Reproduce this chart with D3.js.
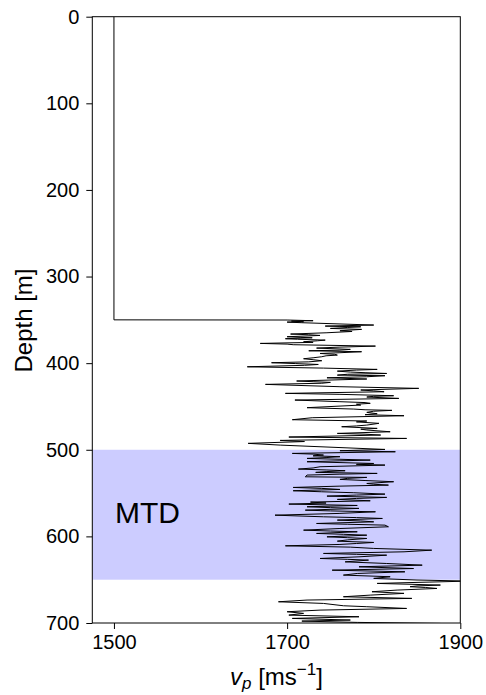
<!DOCTYPE html>
<html>
<head>
<meta charset="utf-8">
<script src="https://cdn.jsdelivr.net/npm/d3@7"></script>
<style>
  body { margin: 0; background: #fff; }
  svg { display: block; font-family: "Liberation Sans", Arial, Helvetica, sans-serif; }
</style>
</head>
<body>
<svg id="chart" width="486" height="695"></svg>
<script>
// P-wave velocity log: depth (m) and vp (m/s)
const depth = [
  0, 350, 350.2, 351.0, 351.4, 352.2, 352.6, 353.3, 356, 357.2, 357.6, 358, 358.8, 359.9, 361, 362.6,
  363.4, 364.9, 366.4, 367.2, 368, 369.5, 370.2, 370.7, 371.8, 372.4, 373.4, 374.2, 375.3, 376.0,
  377.2, 378.0, 378.7, 380.3, 381.5, 382.6, 384.1, 385.0, 385.7, 386.8, 388.0, 388.8, 389.8, 390.7,
  391.5, 392.6, 393.8, 394.9, 396.0, 397.2, 398.5, 399.5, 400.5, 401.5, 402.5, 404.2, 405.7, 407.2,
  408.0, 409.2, 410.3, 411.0, 411.9, 412.8, 413.8, 414.5, 415.7, 416.9, 418.3, 420.6, 421.4, 422.2,
  423.2, 424.5, 427.2, 429.1, 431, 432.0, 433, 434.9, 436, 437.6, 438.3, 439.1, 440.7, 442.6, 444.5,
  445.5, 446.4, 447.4, 448.4, 451.4, 453, 453.8, 454.5, 455.5, 456.8, 458.4, 459.5, 460.7, 463,
  465.3, 466.8, 467.8, 469.5, 471.5, 472.5, 473.4, 475.3, 476.2, 477.2, 479.2, 481.1, 482.0, 483,
  485.3, 486.9, 489.2, 490.5, 492.6, 494.6, 499.6, 501.1, 502.3, 504.2, 505.0, 506.1, 507.0, 508,
  509, 510, 511.9, 512.8, 513.8, 515.8, 516.8, 517.7, 519.6, 521.0, 522.3, 523.3, 524.2, 525.2,
  526.1, 527.3, 528.2, 529.2, 531.2, 531.9, 533.0, 534.2, 535.5, 536.9, 538.9, 539.8, 540.8, 542.0,
  543.5, 544.6, 545.8, 547.3, 548.5, 549.6, 551.2, 552.3, 553.5, 555, 556.2, 557.3, 558.9, 560.4,
  561.5, 562.7, 564.3, 565.8, 566.8, 567.7, 569.7, 570.6, 571.6, 573.5, 575.5, 577.4, 578.3, 579.3,
  581.2, 582.2, 583.2, 585.1, 586.0, 587, 588.9, 590.9, 592.8, 593.8, 594.7, 596.6, 597.6, 598.6,
  600.5, 601.5, 602.4, 604.0, 605.5, 607, 608.2, 609.3, 610.9, 612.4, 613.9, 615.9, 617.8, 619.7,
  620.7, 621.7, 623.6, 625.5, 626.5, 627.4, 629.4, 631.3, 633.2, 635.1, 637.1, 639, 640.9, 642.8,
  644.7, 646.6, 648.5, 650.4, 651.6, 654.3, 656.2, 657.2, 658.1, 659.0, 660.1, 662, 663.9, 665.8,
  667.8, 669.7, 671.6, 673.5, 675.5, 677.4, 680.1, 681.2, 683.2, 685.1, 687, 688.9, 690.9, 692.8,
  694.7, 696.6, 697.8, 699.3, 700.5
];
const vp = [
  1500, 1500, 1700, 1730, 1705, 1719, 1700, 1717, 1800, 1744, 1760, 1785, 1770, 1750, 1786, 1761,
  1775, 1746, 1704, 1725, 1738, 1700, 1715, 1729, 1698, 1712, 1744, 1735, 1719, 1730,
  1669, 1700, 1707, 1802, 1760, 1734, 1773, 1760, 1725, 1786, 1760, 1738, 1755, 1758,
  1745, 1740, 1730, 1719, 1730, 1740, 1725, 1682, 1710, 1736, 1720, 1654, 1742, 1804,
  1780, 1758, 1773, 1790, 1815, 1770, 1758, 1813, 1792, 1746, 1792, 1711, 1730, 1750,
  1740, 1675, 1761, 1852, 1785, 1800, 1812, 1698, 1761, 1823, 1800, 1792, 1829, 1709, 1761,
  1790, 1796, 1780, 1785, 1723, 1777, 1790, 1821, 1800, 1792, 1804, 1790, 1835, 1729,
  1706, 1792, 1780, 1806, 1792, 1780, 1763, 1804, 1785, 1792, 1819, 1758, 1790, 1808,
  1702, 1838, 1692, 1720, 1655, 1692, 1813, 1761, 1825, 1706, 1730, 1742, 1730, 1761,
  1745, 1723, 1796, 1760, 1723, 1800, 1780, 1813, 1738, 1730, 1713, 1745, 1767, 1745,
  1733, 1804, 1760, 1723, 1721, 1792, 1770, 1761, 1790, 1823, 1792, 1800, 1817, 1760,
  1707, 1740, 1761, 1707, 1740, 1777, 1813, 1780, 1746, 1815, 1780, 1758, 1796, 1727,
  1745, 1702, 1781, 1723, 1750, 1783, 1721, 1750, 1802, 1760, 1686, 1742, 1780, 1810,
  1758, 1785, 1800, 1734, 1770, 1813, 1817, 1761, 1719, 1750, 1781, 1734, 1765, 1792,
  1746, 1770, 1792, 1770, 1758, 1800, 1780, 1761, 1698, 1773, 1800, 1867, 1835, 1742,
  1780, 1815, 1783, 1738, 1770, 1794, 1767, 1815, 1856, 1783, 1846, 1752, 1836, 1781,
  1765, 1819, 1800, 1850, 1910, 1804, 1877, 1850, 1842, 1860, 1873, 1827, 1798, 1835,
  1796, 1765, 1844, 1723, 1690, 1742, 1765, 1792, 1838, 1738, 1700, 1719, 1702, 1783,
  1706, 1773, 1717, 1781, 1877
];

// Mass-transport deposit interval (m)
const mtdTop = [500];
const mtdBase = [650];
const mtdLabel = ["MTD"];

const xTicks = [1500, 1700, 1900];
const yTicks = [0, 100, 200, 300, 400, 500, 600, 700];

const svg = d3.select("#chart");
const plot = { left: 92.3, right: 460.3, top: 16.7, bottom: 623 };

const x = d3.scaleLinear().domain([1475, 1900]).range([plot.left, plot.right]);
const y = d3.scaleLinear().domain([0, 700]).range([plot.top, plot.bottom]);

svg.append("defs").append("clipPath").attr("id", "plotclip")
  .append("rect")
  .attr("x", plot.left).attr("y", plot.top)
  .attr("width", plot.right - plot.left).attr("height", plot.bottom - plot.top);

const g = svg.append("g").attr("clip-path", "url(#plotclip)");

// MTD band
g.selectAll("rect.mtd")
  .data(mtdTop.map((t, i) => ({ top: t, base: mtdBase[i], label: mtdLabel[i] })))
  .join("rect")
  .attr("class", "mtd")
  .attr("x", plot.left)
  .attr("width", plot.right - plot.left)
  .attr("y", d => y(d.top))
  .attr("height", d => y(d.base) - y(d.top))
  .attr("fill", "#ccccff");

// velocity log
const pts = depth.map((d, i) => [vp[i], d]);
const line = d3.line().x(d => x(d[0])).y(d => y(d[1]));
g.append("path")
  .attr("d", line(pts))
  .attr("fill", "none")
  .attr("stroke", "#000")
  .attr("stroke-width", 1)
  .attr("stroke-linejoin", "miter");

// MTD label
svg.append("text")
  .attr("x", 115)
  .attr("y", 523)
  .attr("font-size", 30)
  .attr("fill", "#000")
  .text(mtdLabel[0]);

// axes
const fmt = d3.format("d");
const yAxis = d3.axisLeft(y).tickValues(yTicks).tickFormat(fmt).tickSize(6).tickPadding(7);
const xAxis = d3.axisBottom(x).tickValues(xTicks).tickFormat(fmt).tickSize(6).tickPadding(6);

const ya = svg.append("g").attr("transform", `translate(${plot.left},0)`).call(yAxis);
const xa = svg.append("g").attr("transform", `translate(0,${plot.bottom})`).call(xAxis);
[ya, xa].forEach(a => {
  a.select(".domain").remove();
  a.selectAll(".tick line").attr("stroke", "#000").attr("stroke-width", 1);
  a.selectAll(".tick text")
    .attr("font-family", '"Liberation Sans", Arial, sans-serif')
    .attr("font-size", 20)
    .attr("fill", "#000");
});

// frame
svg.append("rect")
  .attr("x", plot.left).attr("y", plot.top)
  .attr("width", plot.right - plot.left).attr("height", plot.bottom - plot.top)
  .attr("fill", "none").attr("stroke", "#000").attr("stroke-width", 1);

// axis titles
svg.append("text")
  .attr("transform", "translate(31.5,320.5) rotate(-90)")
  .attr("text-anchor", "middle")
  .attr("font-size", 24)
  .text("Depth [m]");

const xt = svg.append("text")
  .attr("x", 276.5)
  .attr("y", 685)
  .attr("text-anchor", "middle")
  .attr("font-size", 24);
xt.append("tspan").attr("font-style", "italic").text("v");
xt.append("tspan").attr("font-style", "italic").attr("font-size", 17).attr("dy", 4).text("p");
xt.append("tspan").attr("dy", -4).text(" [ms");
xt.append("tspan").attr("font-size", 17).attr("dy", -10).text("−1");
xt.append("tspan").attr("dy", 10).text("]");
</script>
</body>
</html>
